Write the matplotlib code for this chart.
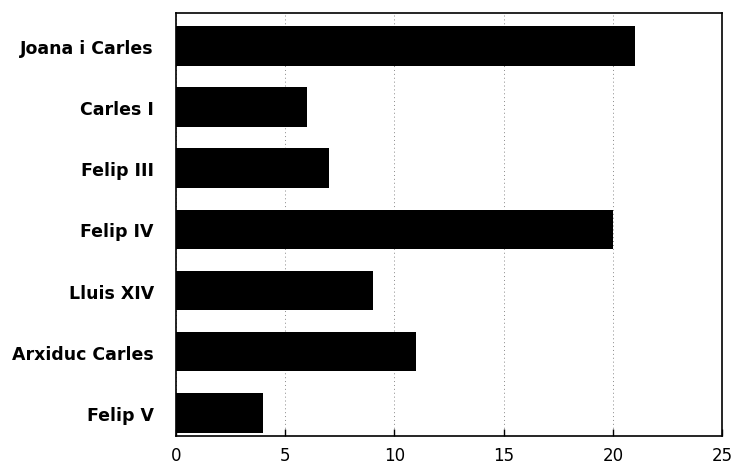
import matplotlib
matplotlib.use("Agg")
import matplotlib.pyplot as plt

categories = ["Joana i Carles", "Carles I", "Felip III", "Felip IV", "Lluis XIV", "Arxiduc Carles", "Felip V"]
values = [21, 6, 7, 20, 9, 11, 4]
xticks = [0, 5, 10, 15, 20, 25]

plt.rcParams['font.family'] = ['DejaVu Sans']

fig = plt.figure(figsize=(7.34, 4.77), dpi=100)
ax = fig.add_axes([0.2398, 0.0839, 0.7439, 0.8867])

n = len(categories)
pos = [n - 1 - i for i in range(n)]
ax.barh(pos, values, height=0.65, color='black', zorder=3)

ax.set_xlim(0, 25)
ax.set_ylim(-0.38, n - 1 + 0.54)
ax.set_xticks(xticks)
ax.set_xticklabels([str(t) for t in xticks], fontsize=12)
ax.set_yticks(pos)
ax.set_yticklabels(categories, fontsize=12.5, fontweight='bold')

ax.xaxis.grid(True, linestyle=(0, (1, 3)), color='#888888', linewidth=0.7, zorder=0)
ax.tick_params(axis='x', direction='in', length=5, width=1, pad=7)
ax.tick_params(axis='y', direction='in', length=3, width=1, pad=16)
for s in ax.spines.values():
    s.set_linewidth(1.2)
    s.set_color('black')

fig.savefig("out.png", dpi=100)
